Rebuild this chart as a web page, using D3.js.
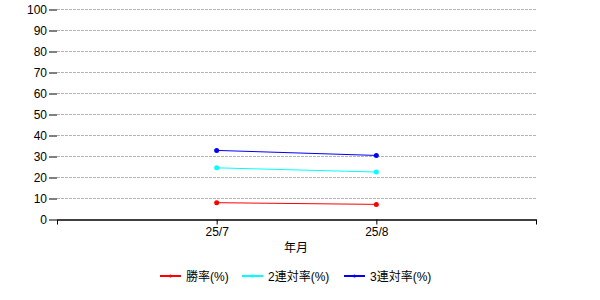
<!DOCTYPE html>
<html>
<head>
<meta charset="utf-8">
<script src="https://cdn.jsdelivr.net/npm/d3@7"></script>
<style>
  body { margin: 0; background: #fff; }
  text { font-family: "Liberation Sans", "Noto Sans CJK JP", sans-serif; font-size: 12px; fill: #000; }
</style>
</head>
<body>
<div id="chart-area"></div>
<script>
// data
var months = ["25/7", "25/8"];
var winRate = [8.0, 7.2];
var top2Rate = [24.6, 22.6];
var top3Rate = [32.9, 30.5];
var seriesNames = ["勝率(%)", "2連対率(%)", "3連対率(%)"];
var seriesColors = ["#ff0000", "#00ffff", "#0000ff"];
var yTicks = [0, 10, 20, 30, 40, 50, 60, 70, 80, 90, 100];

var width = 600, height = 300;
var svg = d3.select("#chart-area").append("svg").attr("width", width).attr("height", height);

// category slots: edge, 25/7, 25/8, edge
var x = d3.scaleLinear().domain([0, months.length + 1]).range([57, 536]);
var y = d3.scaleLinear().domain([0, 100]).range([219.5, 9.5]);

// gridlines
svg.append("g").selectAll("line")
  .data(yTicks.filter(function(d) { return d > 0; }))
  .enter().append("line")
  .attr("x1", 57).attr("x2", 536)
  .attr("y1", function(d) { return y(d); }).attr("y2", function(d) { return y(d); })
  .attr("stroke", "#b4b4b4").attr("stroke-dasharray", "3,1");

// y axis (ticks only, no domain line)
var yAxis = svg.append("g").attr("transform", "translate(57,0)")
  .call(d3.axisLeft(y).tickValues(yTicks).tickSize(8).tickPadding(2));
yAxis.select(".domain").remove();
yAxis.selectAll("line").attr("stroke", "#000");
yAxis.selectAll("text").style("font-size", "12px").attr("fill", "#000");

// x axis
var xAxis = svg.append("g").attr("transform", "translate(0,219.5)")
  .call(d3.axisBottom(x).tickValues([0, 1, 2, 3])
    .tickFormat(function(d) { return months[d - 1] || ""; })
    .tickSizeInner(5).tickSizeOuter(0).tickPadding(3));
xAxis.select(".domain").attr("stroke", "#000").attr("stroke-width", 1.5);
xAxis.selectAll("line").attr("stroke", "#000");
xAxis.selectAll("text").style("font-size", "12px").attr("fill", "#000");

svg.append("text").attr("x", 296).attr("y", 252).attr("text-anchor", "middle").text("年月");

// series
var allSeries = [winRate, top2Rate, top3Rate];
var line = d3.line()
  .x(function(d, i) { return x(i + 1); })
  .y(function(d) { return y(d); });

allSeries.forEach(function(vals, s) {
  svg.append("path").datum(vals)
    .attr("d", line).attr("fill", "none")
    .attr("stroke", seriesColors[s]).attr("stroke-width", 1);
  svg.append("g").selectAll("circle").data(vals).enter().append("circle")
    .attr("cx", function(d, i) { return x(i + 1); })
    .attr("cy", function(d) { return y(d); })
    .attr("r", 2.5).attr("fill", seriesColors[s]);
});

// legend
var legendX = [160, 242, 344];
var lg = svg.append("g");
seriesNames.forEach(function(name, s) {
  var g = lg.append("g").attr("transform", "translate(" + legendX[s] + ",276)");
  g.append("line").attr("x1", 0).attr("x2", 21).attr("y1", 0).attr("y2", 0)
    .attr("stroke", seriesColors[s]).attr("stroke-width", 2);
  g.append("circle").attr("cx", 10.5).attr("cy", 0).attr("r", 1.5).attr("fill", seriesColors[s]);
  g.append("text").attr("x", 26).attr("y", 4.5).text(name);
});
</script>
</body>
</html>
